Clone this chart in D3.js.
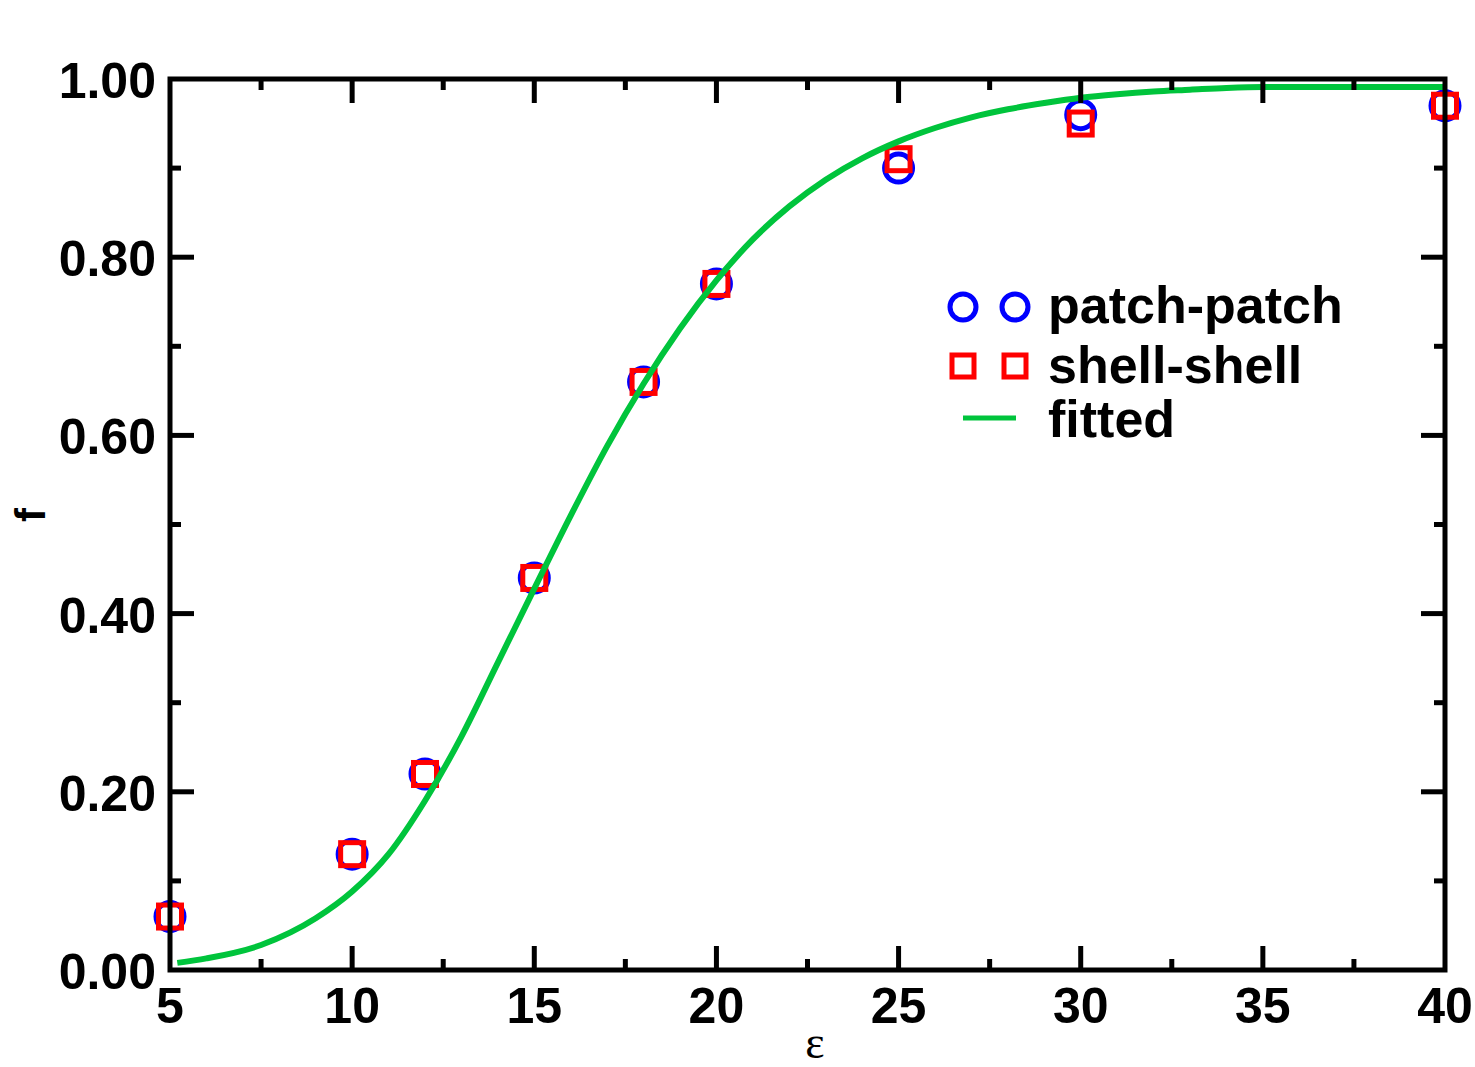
<!DOCTYPE html>
<html>
<head>
<meta charset="utf-8">
<script src="https://cdnjs.cloudflare.com/ajax/libs/d3/7.8.5/d3.min.js"></script>
<style>
  html, body { margin: 0; padding: 0; background: #fff; }
  svg text { font-family: "Liberation Sans", Arial, sans-serif; font-weight: bold; }
</style>
</head>
<body>
<svg id="chart" width="1475" height="1067"></svg>
<script>
// epsilon values of the simulations
var eps = [5, 10, 12, 15, 18, 20, 25, 30, 40];
var patchPatch = [0.06, 0.13, 0.22, 0.44, 0.66, 0.77, 0.90, 0.96, 0.97];
var shellShell = [0.06, 0.13, 0.22, 0.44, 0.66, 0.77, 0.91, 0.95, 0.97];

// fitted curve
var fitEps = [5.2, 6, 7.5, 9, 10, 11, 12, 13, 14, 15, 16, 17, 18, 19, 20, 21, 22, 23, 24, 25, 26, 27, 28, 29, 30, 31, 32, 33, 34, 35, 40];
var fitF   = [0.008, 0.013, 0.028, 0.058, 0.088, 0.13, 0.19, 0.262, 0.345, 0.428, 0.51, 0.588, 0.658, 0.72, 0.774, 0.82, 0.857, 0.887, 0.911, 0.93, 0.945, 0.957, 0.966, 0.973, 0.979, 0.983, 0.986, 0.988, 0.99, 0.991, 0.991];

var xMajor = [5, 10, 15, 20, 25, 30, 35, 40];
var xMinor = [7.5, 12.5, 17.5, 22.5, 27.5, 32.5, 37.5];
var yMajor = [0, 0.2, 0.4, 0.6, 0.8, 1.0];
var yMinor = [0.1, 0.3, 0.5, 0.7, 0.9];

var legendItems = ["patch-patch", "shell-shell", "fitted"];

var svg = d3.select("#chart");
var L = 170, R = 1445, T = 79, B = 970;

var x = d3.scaleLinear().domain([5, 40]).range([L, R]);
var y = d3.scaleLinear().domain([0, 1]).range([B, T]);

var blue = "#0000ff", red = "#ff0000", green = "#00c43c";

// markers
var pts = svg.append("g");
pts.selectAll("circle").data(eps).enter().append("circle")
    .attr("cx", function(d){ return x(d); })
    .attr("cy", function(d, i){ return y(patchPatch[i]); })
    .attr("r", 14)
    .attr("fill", "none").attr("stroke", blue).attr("stroke-width", 5);

pts.selectAll("rect").data(eps).enter().append("rect")
    .attr("x", function(d){ return x(d) - 11.5; })
    .attr("y", function(d, i){ return y(shellShell[i]) - 11.5; })
    .attr("width", 23).attr("height", 23)
    .attr("fill", "none").attr("stroke", red).attr("stroke-width", 5);

// fitted curve
var line = d3.line()
    .x(function(d){ return x(d); })
    .y(function(d, i){ return y(fitF[i]); })
    .curve(d3.curveMonotoneX);

svg.append("path")
    .attr("d", line(fitEps))
    .attr("fill", "none").attr("stroke", green).attr("stroke-width", 6);

// frame and ticks on all four sides
var frame = svg.append("g").attr("stroke", "#000").attr("stroke-width", 5);
frame.append("rect")
    .attr("x", L).attr("y", T).attr("width", R - L).attr("height", B - T)
    .attr("fill", "none").attr("stroke-linejoin", "miter").attr("stroke-linecap", "square");

function xTicks(vals, len){
    vals.forEach(function(v){
        if (v === 5 || v === 40) return;
        frame.append("line").attr("x1", x(v)).attr("x2", x(v)).attr("y1", B).attr("y2", B - len);
        frame.append("line").attr("x1", x(v)).attr("x2", x(v)).attr("y1", T).attr("y2", T + len);
    });
}
function yTicks(vals, len){
    vals.forEach(function(v){
        if (v === 0 || v === 1) return;
        frame.append("line").attr("y1", y(v)).attr("y2", y(v)).attr("x1", L).attr("x2", L + len);
        frame.append("line").attr("y1", y(v)).attr("y2", y(v)).attr("x1", R).attr("x2", R - len);
    });
}
xTicks(xMajor, 24); xTicks(xMinor, 11);
yTicks(yMajor, 24); yTicks(yMinor, 11);

// tick labels
svg.append("g").selectAll("text").data(xMajor).enter().append("text")
    .attr("x", function(d){ return x(d); })
    .attr("y", 1023)
    .attr("text-anchor", "middle")
    .attr("font-size", 50)
    .text(function(d){ return d; });

svg.append("g").selectAll("text").data(yMajor).enter().append("text")
    .attr("x", 156)
    .attr("y", function(d){ return y(d) + 19; })
    .attr("text-anchor", "end")
    .attr("font-size", 50)
    .text(function(d){ return d.toFixed(2); });

// axis titles
svg.append("text")
    .attr("transform", "translate(45,515) rotate(-90)")
    .attr("text-anchor", "middle")
    .attr("font-size", 42)
    .text("f");

svg.append("text")
    .attr("x", 815).attr("y", 1058)
    .attr("text-anchor", "middle")
    .attr("font-size", 46)
    .style("font-family", "'Liberation Serif', 'Times New Roman', serif")
    .style("font-weight", "normal")
    .text("ε");

// legend
var leg = svg.append("g");
var rowY = [307, 366, 418];
var baseY = [323, 383, 437];
[963, 1015].forEach(function(cx){
    leg.append("circle").attr("cx", cx).attr("cy", rowY[0]).attr("r", 13)
        .attr("fill", "none").attr("stroke", blue).attr("stroke-width", 5);
    leg.append("rect").attr("x", cx - 11).attr("y", rowY[1] - 11).attr("width", 22).attr("height", 22)
        .attr("fill", "none").attr("stroke", red).attr("stroke-width", 5);
});
leg.append("line").attr("x1", 963).attr("x2", 1016).attr("y1", rowY[2]).attr("y2", rowY[2])
    .attr("stroke", green).attr("stroke-width", 5);
leg.selectAll("text").data(legendItems).enter().append("text")
    .attr("x", 1048)
    .attr("y", function(d, i){ return baseY[i]; })
    .attr("font-size", 52)
    .text(function(d){ return d; });
</script>
</body>
</html>
